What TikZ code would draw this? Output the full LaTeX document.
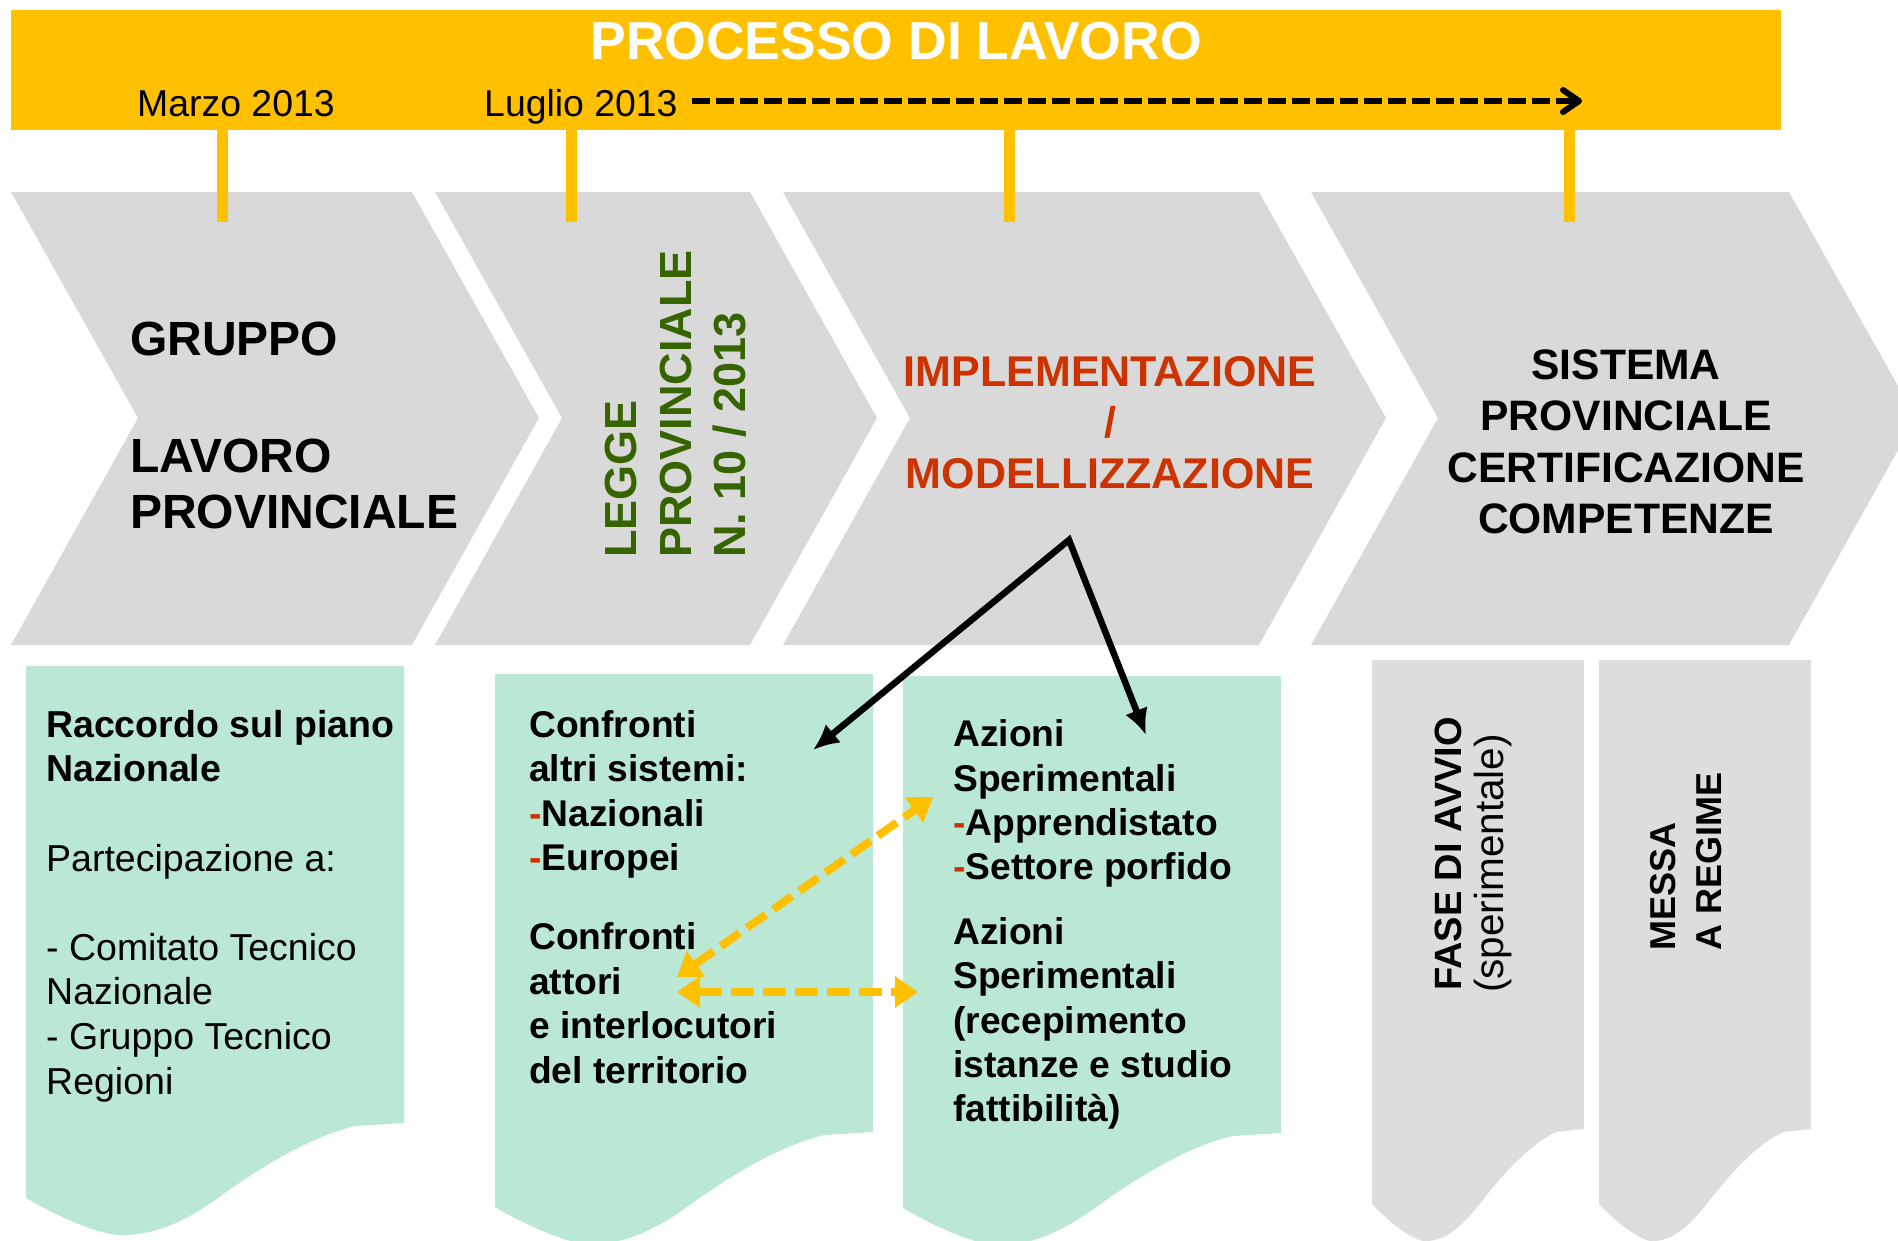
\documentclass[tikz,border=0pt]{standalone}
\usepackage{fontspec}
\setmainfont{Liberation Sans}
\usetikzlibrary{arrows.meta}
\definecolor{giallo}{RGB}{255,192,0}
\definecolor{grigio}{RGB}{217,217,217}
\definecolor{grigiochiaro}{RGB}{221,221,221}
\definecolor{acqua}{RGB}{187,231,213}
\definecolor{rosso}{RGB}{204,51,0}
\definecolor{verde}{RGB}{54,100,0}
\begin{document}
\begin{tikzpicture}[x=1pt, y=-1pt,
                testo/.style={inner sep=0pt, align=left, anchor=north west},
                titolo/.style={inner sep=0pt, anchor=base west, font=\fontsize{48}{56}\selectfont\bfseries},
                blocco/.style={font=\fontsize{37.2}{44.4}\selectfont\bfseries},
                verticale/.style={inner sep=0pt, rotate=90, anchor=base west},
                data/.style={inner sep=0pt, anchor=base west, font=\fontsize{37.4}{44}\selectfont},
                tacca/.style={giallo, line width=11pt},
                freccia/.style={line width=6.5pt, {Latex[length=26pt,width=24pt]}-{Latex[length=26pt,width=24pt]}},
                doppia/.style={giallo, line width=8pt, dash pattern=on 23pt off 9pt, {Triangle[length=23pt,width=30pt]}-{Triangle[length=23pt,width=30pt]}}]
                \clip (0,0) rectangle (1898,1240);

                \fill[giallo] (11,10) rectangle (1781,130);
                \node[inner sep=0pt, anchor=base, text=white, font=\fontsize{53.5}{60}\selectfont\bfseries] (T) at (896,59) {PROCESSO DI LAVORO};
                \node[data] (Ma) at (137,116) {Marzo 2013};
                \node[data] (Lu) at (484,116) {Luglio 2013};
                \coordinate (oggi) at (692,101);
                \coordinate (poi) at (1582,101);
                \draw[line width=6pt, dash pattern=on 18pt off 6pt, -{Straight Barb[length=16pt,width=22pt,round]}] (oggi) -- (poi);

                \foreach \a/\b in {11/412, 435/750, 783/1259, 1311/1789}
                    \fill[grigio] (\a,192) -- (\b,192) -- (\b+127,418) -- (\b,645) -- (\a,645) -- (\a+127,418) -- cycle;
                \foreach \x in {222,571,1009,1569}
                    \draw[tacca] (\x,130) -- (\x,222);

                \node[titolo] (G1) at (130,355) {GRUPPO};
                \node[titolo] (G2) at (130,472) {LAVORO};
                \node[titolo] (G3) at (130,528) {PROVINCIALE};
                \node[verticale, text=verde, font=\fontsize{45}{54}\selectfont\bfseries] (LP1) at (636,558) {LEGGE};
                \node[verticale, text=verde, font=\fontsize{45}{54}\selectfont\bfseries] (LP2) at (691,558) {PROVINCIALE};
                \node[verticale, text=verde, font=\fontsize{45}{54}\selectfont\bfseries] (LP3) at (745,558) {N. 10 / 2013};
                \node[inner sep=0pt, align=center, anchor=north, text=rosso, font=\fontsize{43}{51}\selectfont\bfseries] (IM) at (1110,356.2) {IMPLEMENTAZIONE\\/\\MODELLIZZAZIONE};
                \node[inner sep=0pt, align=center, anchor=north, font=\fontsize{42.6}{51.3}\selectfont\bfseries] (SP) at (1626,349.5) {SISTEMA\\PROVINCIALE\\CERTIFICAZIONE\\COMPETENZE};

                \foreach \l/\r/\t/\y/\c in {26/404/666/1123/acqua, 495/873/674/1132/acqua, 903/1281/676/1133/acqua, 1372/1584/660/1129/grigiochiaro, 1599/1811/660/1129/grigiochiaro}{
                    \pgfmathsetmacro\w{\r-\l}
                    \fill[\c] (\l,\t) -- (\r,\t) -- (\r,\y) -- ({\l+0.87*\w},\y+3)
                        .. controls ({\l+0.725*\w},\y+17) and ({\l+0.593*\w},\y+52) .. ({\l+0.5*\w},\y+77)
                        .. controls ({\l+0.407*\w},\y+102) and ({\l+0.328*\w},\y+113) .. ({\l+0.241*\w},\y+112)
                        .. controls ({\l+0.169*\w},\y+109) and ({\l+0.063*\w},\y+89) .. (\l,\y+75) -- cycle;
                }

                \node[testo, font=\fontsize{37.5}{44.6}\selectfont] (R) at (46,710) {\textbf{Raccordo sul piano}\\\textbf{Nazionale}\\[44.6pt]Partecipazione a:\\[44.6pt]- Comitato Tecnico\\Nazionale\\- Gruppo Tecnico\\Regioni};
                \node[testo, blocco] (C) at (529,710.4) {Confronti\\altri sistemi:\\{\color{rosso}-}Nazionali\\{\color{rosso}-}Europei\\[34.7pt]Confronti\\attori\\e interlocutori\\del territorio};
                \node[testo, blocco] (AZ) at (953,719.5) {Azioni\\Sperimentali\\{\color{rosso}-}Apprendistato\\{\color{rosso}-}Settore porfido\\[20pt]Azioni\\Sperimentali\\(recepimento\\istanze e studio\\fattibilità)};

                \node[verticale, font=\fontsize{38}{44}\selectfont\bfseries] (F1) at (1461,991) {FASE DI AVVIO};
                \node[verticale, font=\fontsize{40.5}{44}\selectfont] (F2) at (1503,993) {(sperimentale)};
                \node[verticale, font=\fontsize{36}{44}\selectfont\bfseries] (M1) at (1675,951) {MESSA};
                \node[verticale, font=\fontsize{36}{44}\selectfont\bfseries] (M2) at (1721,951) {A REGIME};

                \coordinate (V) at (1069,540);
                \coordinate (A1) at (813,750);
                \coordinate (A2) at (1146,735);
                \draw[freccia] (A1) -- (V) -- (A2);

                \coordinate (o1) at (677,977);
                \coordinate (o2) at (933,797);
                \coordinate (o3) at (677,992);
                \coordinate (o4) at (918,992);
                \draw[doppia] (o1) -- (o2);
                \draw[doppia] (o3) -- (o4);
            \end{tikzpicture}
\end{document}
